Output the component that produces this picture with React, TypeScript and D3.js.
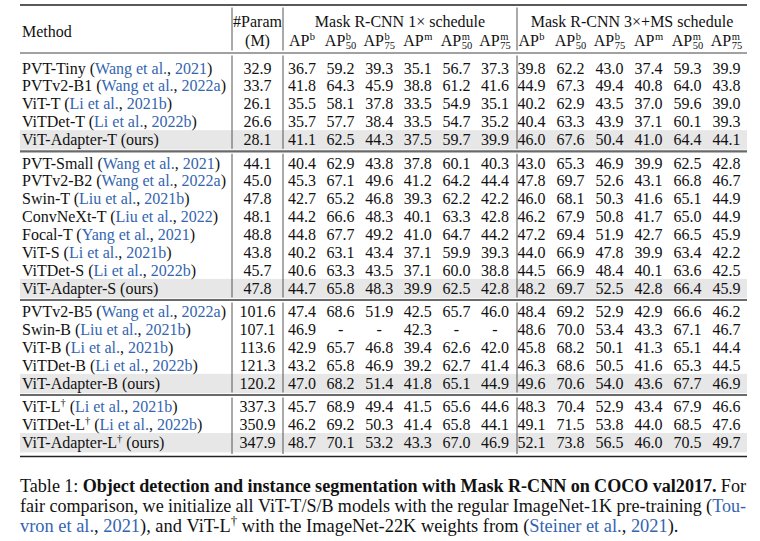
import React from 'react';
import * as d3 from 'd3';

// ---------- data ----------
const methodNames = [
  'PVT-Tiny', 'PVTv2-B1', 'ViT-T', 'ViTDet-T', 'ViT-Adapter-T',
  'PVT-Small', 'PVTv2-B2', 'Swin-T', 'ConvNeXt-T', 'Focal-T', 'ViT-S', 'ViTDet-S', 'ViT-Adapter-S',
  'PVTv2-B5', 'Swin-B', 'ViT-B', 'ViTDet-B', 'ViT-Adapter-B',
  'ViT-L', 'ViTDet-L', 'ViT-Adapter-L',
];
const methodDagger = [
  false, false, false, false, false,
  false, false, false, false, false, false, false, false,
  false, false, false, false, false,
  true, true, true,
];
const citeAuthors = [
  'Wang et al.', 'Wang et al.', 'Li et al.', 'Li et al.', '',
  'Wang et al.', 'Wang et al.', 'Liu et al.', 'Liu et al.', 'Yang et al.', 'Li et al.', 'Li et al.', '',
  'Wang et al.', 'Liu et al.', 'Li et al.', 'Li et al.', '',
  'Li et al.', 'Li et al.', '',
];
const citeYears = [
  '2021', '2022a', '2021b', '2022b', '',
  '2021', '2022a', '2021b', '2022', '2021', '2021b', '2022b', '',
  '2022a', '2021b', '2021b', '2022b', '',
  '2021b', '2022b', '',
];
const groupOf = [0, 0, 0, 0, 0, 1, 1, 1, 1, 1, 1, 1, 1, 2, 2, 2, 2, 2, 3, 3, 3];
const paramsM = [
  '32.9', '33.7', '26.1', '26.6', '28.1',
  '44.1', '45.0', '47.8', '48.1', '48.8', '43.8', '45.7', '47.8',
  '101.6', '107.1', '113.6', '121.3', '120.2',
  '337.3', '350.9', '347.9',
];
const metricKeys = ['APb', 'APb50', 'APb75', 'APm', 'APm50', 'APm75'];
const metricSup = ['b', 'b', 'b', 'm', 'm', 'm'];
const metricSub = ['', '50', '75', '', '50', '75'];
const rcnn1x = [
  ['36.7', '59.2', '39.3', '35.1', '56.7', '37.3'],
  ['41.8', '64.3', '45.9', '38.8', '61.2', '41.6'],
  ['35.5', '58.1', '37.8', '33.5', '54.9', '35.1'],
  ['35.7', '57.7', '38.4', '33.5', '54.7', '35.2'],
  ['41.1', '62.5', '44.3', '37.5', '59.7', '39.9'],
  ['40.4', '62.9', '43.8', '37.8', '60.1', '40.3'],
  ['45.3', '67.1', '49.6', '41.2', '64.2', '44.4'],
  ['42.7', '65.2', '46.8', '39.3', '62.2', '42.2'],
  ['44.2', '66.6', '48.3', '40.1', '63.3', '42.8'],
  ['44.8', '67.7', '49.2', '41.0', '64.7', '44.2'],
  ['40.2', '63.1', '43.4', '37.1', '59.9', '39.3'],
  ['40.6', '63.3', '43.5', '37.1', '60.0', '38.8'],
  ['44.7', '65.8', '48.3', '39.9', '62.5', '42.8'],
  ['47.4', '68.6', '51.9', '42.5', '65.7', '46.0'],
  ['46.9', '-', '-', '42.3', '-', '-'],
  ['42.9', '65.7', '46.8', '39.4', '62.6', '42.0'],
  ['43.2', '65.8', '46.9', '39.2', '62.7', '41.4'],
  ['47.0', '68.2', '51.4', '41.8', '65.1', '44.9'],
  ['45.7', '68.9', '49.4', '41.5', '65.6', '44.6'],
  ['46.2', '69.2', '50.3', '41.4', '65.8', '44.1'],
  ['48.7', '70.1', '53.2', '43.3', '67.0', '46.9'],
];
const rcnn3x = [
  ['39.8', '62.2', '43.0', '37.4', '59.3', '39.9'],
  ['44.9', '67.3', '49.4', '40.8', '64.0', '43.8'],
  ['40.2', '62.9', '43.5', '37.0', '59.6', '39.0'],
  ['40.4', '63.3', '43.9', '37.1', '60.1', '39.3'],
  ['46.0', '67.6', '50.4', '41.0', '64.4', '44.1'],
  ['43.0', '65.3', '46.9', '39.9', '62.5', '42.8'],
  ['47.8', '69.7', '52.6', '43.1', '66.8', '46.7'],
  ['46.0', '68.1', '50.3', '41.6', '65.1', '44.9'],
  ['46.2', '67.9', '50.8', '41.7', '65.0', '44.9'],
  ['47.2', '69.4', '51.9', '42.7', '66.5', '45.9'],
  ['44.0', '66.9', '47.8', '39.9', '63.4', '42.2'],
  ['44.5', '66.9', '48.4', '40.1', '63.6', '42.5'],
  ['48.2', '69.7', '52.5', '42.8', '66.4', '45.9'],
  ['48.4', '69.2', '52.9', '42.9', '66.6', '46.2'],
  ['48.6', '70.0', '53.4', '43.3', '67.1', '46.7'],
  ['45.8', '68.2', '50.1', '41.3', '65.1', '44.4'],
  ['46.3', '68.6', '50.5', '41.6', '65.3', '44.5'],
  ['49.6', '70.6', '54.0', '43.6', '67.7', '46.9'],
  ['48.3', '70.4', '52.9', '43.4', '67.9', '46.6'],
  ['49.1', '71.5', '53.8', '44.0', '68.5', '47.6'],
  ['52.1', '73.8', '56.5', '46.0', '70.5', '49.7'],
];
const headerMethod = 'Method';
const headerParam = ['#Param', '(M)'];
const headerBlocks = ['Mask R-CNN 1\u00d7 schedule', 'Mask R-CNN 3\u00d7+MS schedule'];

type Seg = { t: string; b?: boolean; blue?: boolean; sup?: boolean };
const captionLines: Seg[][][] = [
  [
    [{ t: 'Table' }], [{ t: '1:' }],
    [{ t: 'Object', b: true }], [{ t: 'detection', b: true }], [{ t: 'and', b: true }],
    [{ t: 'instance', b: true }], [{ t: 'segmentation', b: true }], [{ t: 'with', b: true }],
    [{ t: 'Mask', b: true }], [{ t: 'R-CNN', b: true }], [{ t: 'on', b: true }],
    [{ t: 'COCO', b: true }], [{ t: 'val2017.', b: true }], [{ t: 'For' }],
  ],
  [
    [{ t: 'fair' }], [{ t: 'comparison,' }], [{ t: 'we' }], [{ t: 'initialize' }], [{ t: 'all' }],
    [{ t: 'ViT-T/S/B' }], [{ t: 'models' }], [{ t: 'with' }], [{ t: 'the' }], [{ t: 'regular' }],
    [{ t: 'ImageNet-1K' }], [{ t: 'pre-training' }], [{ t: '(' }, { t: 'Tou-', blue: true }],
  ],
  [
    [{ t: 'vron', blue: true }], [{ t: 'et', blue: true }], [{ t: 'al.', blue: true }, { t: ',' }],
    [{ t: '2021', blue: true }, { t: '),' }], [{ t: 'and' }], [{ t: 'ViT-L' }, { t: '\u2020', sup: true }],
    [{ t: 'with' }], [{ t: 'the' }], [{ t: 'ImageNet-22K' }], [{ t: 'weights' }], [{ t: 'from' }],
    [{ t: '(' }, { t: 'Steiner', blue: true }], [{ t: 'et', blue: true }], [{ t: 'al.', blue: true }, { t: ',' }],
    [{ t: '2021', blue: true }, { t: ').' }],
  ],
];

// ---------- style ----------
const FONT = '"Liberation Serif", "Times New Roman", Times, serif';
const FS = 16;
const SMALL = 10.5;
const CAP_FS = 18.4;
const BLUE = '#3465b0';
const TEXT = '#111';
const HILITE = '#e7e7e7';

let ctx: CanvasRenderingContext2D | null = null;
function measure(text: string, size: number, bold = false): number {
  if (!ctx) ctx = document.createElement('canvas').getContext('2d');
  if (!ctx) return text.length * size * 0.5;
  ctx.font = `${bold ? 'bold ' : ''}${size}px "Liberation Serif"`;
  return ctx.measureText(text).width;
}

// ---------- layout scales ----------
const TABLE_L = 20;
const TABLE_R = 747;
const METHOD_X = 22;
const V1 = 232, V2 = 283, V3 = 517;
const PARAM_X = 257.5;
const ROW_H = 17.9;
const GROUP_GAP = 23.4;
const FIRST_ROW = 68;
const TOP_RULE = 5;
const HEAD_RULE = 53;
const H1 = 27, H2 = 46;

const x1 = d3.scalePoint<string>().domain(metricKeys).range([302, 495]);
const x3 = d3.scalePoint<string>().domain(metricKeys).range([531.5, 726.5]);
const slot = d3.scaleLinear().domain([0, 1]).range([FIRST_ROW, FIRST_ROW + ROW_H]);
const extra = (GROUP_GAP - ROW_H) / ROW_H;
const rowCenter = (i: number) => slot(i + groupOf[i] * extra);

function APHead({ cx, sup, sub }: { cx: number; sup: string; sub: string }) {
  const wAP = measure('AP', FS);
  const wS = Math.max(measure(sup, SMALL), sub ? measure(sub, SMALL) : 0);
  const x0 = cx - (wAP + wS + 0.5) / 2;
  return (
    <g>
      <text x={x0} y={H2}>AP</text>
      <text x={x0 + wAP + 0.5} y={H2 - 6.5} fontSize={SMALL}>{sup}</text>
      {sub && <text x={x0 + wAP + 0.5} y={H2 + 3.2} fontSize={SMALL}>{sub}</text>}
    </g>
  );
}

function Caption() {
  const left = TABLE_L;
  const right = 746;
  const avail = right - left;
  const baselines = [492, 512, 532];
  const wordWidth = (w: Seg[]) =>
    w.reduce((s, seg) => s + measure(seg.t, seg.sup ? CAP_FS * 0.7 : CAP_FS, !!seg.b), 0);
  const lines: JSX.Element[] = [];
  captionLines.forEach((line, li) => {
    const widths = line.map(wordWidth);
    const total = d3.sum(widths);
    const justify = li < captionLines.length - 1;
    const minGap = CAP_FS * 0.24;
    let gap = CAP_FS * 0.25;
    let sx = 1;
    if (justify) {
      const natural = total + minGap * (line.length - 1);
      if (natural > avail) {
        sx = avail / natural;
        gap = minGap;
      } else {
        gap = (avail - total) / (line.length - 1);
      }
    }
    let x = 0;
    const words = line.map((w, wi) => {
      const el = (
        <text key={`${li}-${wi}`} x={x} y={0} fontSize={CAP_FS} style={{ whiteSpace: 'pre' }}>
          {w.map((seg, si) => (
            <tspan
              key={si}
              fontWeight={seg.b ? 'bold' : 'normal'}
              fill={seg.blue ? BLUE : TEXT}
              fontSize={seg.sup ? CAP_FS * 0.7 : CAP_FS}
              dy={seg.sup ? -7 : 0}
            >
              {seg.t}
            </tspan>
          ))}
        </text>
      );
      x += widths[wi] + gap;
      return el;
    });
    lines.push(
      <g key={`l${li}`} transform={`translate(${left},${baselines[li]}) scale(${sx},1)`}>
        {words}
      </g>
    );
  });
  return <g>{lines}</g>;
}

export default function App() {
  const nRows = methodNames.length;
  const lastOfGroup: number[] = [];
  for (let i = 0; i < nRows; i++) {
    if (i === nRows - 1 || groupOf[i + 1] !== groupOf[i]) lastOfGroup.push(i);
  }
  const sepYs = lastOfGroup.slice(0, -1).map((i) => rowCenter(i) + GROUP_GAP / 2);
  const bottomRule = rowCenter(nRows - 1) + 14;
  const ruleYs = [TOP_RULE, HEAD_RULE, ...sepYs, bottomRule];

  return (
    <svg
      width={760}
      height={541}
      style={{ position: 'absolute', left: 0, top: 0, background: '#fff' }}
      fontFamily={FONT}
      fontSize={FS}
      fill={TEXT}
    >
      <rect x={0} y={0} width={760} height={541} fill="#fff" />
      {/* highlight rows (ours) */}
      {methodNames.map((n, i) =>
        citeAuthors[i] === '' ? (
          <rect key={`h${i}`} x={TABLE_L} y={rowCenter(i) - ROW_H / 2 - 0.5} width={TABLE_R - TABLE_L} height={ROW_H + 1.5} fill={HILITE} />
        ) : null
      )}
      {/* horizontal rules */}
      <line x1={TABLE_L} x2={TABLE_R} y1={TOP_RULE} y2={TOP_RULE} stroke="#222" strokeWidth={1.4} />
      <line x1={TABLE_L} x2={TABLE_R} y1={HEAD_RULE} y2={HEAD_RULE} stroke="#444" strokeWidth={1} />
      {sepYs.map((y, k) => (
        <line key={`s${k}`} x1={TABLE_L} x2={TABLE_R} y1={y} y2={y} stroke="#6a6a6a" strokeWidth={2.2} />
      ))}
      <line x1={TABLE_L} x2={TABLE_R} y1={bottomRule} y2={bottomRule} stroke="#222" strokeWidth={1.4} />
      {/* vertical lines */}
      {ruleYs.slice(0, -1).map((y, k) =>
        [V1, V2, V3].map((vx) => (
          <line key={`v${k}-${vx}`} x1={vx} x2={vx} y1={y + 2.5} y2={ruleYs[k + 1] - 2.5} stroke="#555" strokeWidth={1} />
        ))
      )}
      {/* header */}
      <text x={METHOD_X} y={(H1 + H2) / 2}>{headerMethod}</text>
      <text x={PARAM_X} y={H1} textAnchor="middle">{headerParam[0]}</text>
      <text x={PARAM_X} y={H2} textAnchor="middle">{headerParam[1]}</text>
      <text x={(V2 + V3) / 2} y={H1} textAnchor="middle">{headerBlocks[0]}</text>
      <text x={(V3 + TABLE_R) / 2} y={H1} textAnchor="middle">{headerBlocks[1]}</text>
      {metricKeys.map((k, j) => (
        <APHead key={`a${k}`} cx={x1(k)!} sup={metricSup[j]} sub={metricSub[j]} />
      ))}
      {metricKeys.map((k, j) => (
        <APHead key={`b${k}`} cx={x3(k)!} sup={metricSup[j]} sub={metricSub[j]} />
      ))}
      {/* body */}
      {methodNames.map((name, i) => {
        const yb = rowCenter(i) + 5.5;
        return (
          <g key={`r${i}`}>
            <text x={METHOD_X} y={yb} style={{ whiteSpace: 'pre' }}>
              <tspan>{name}</tspan>
              {methodDagger[i] && (
                <tspan fontSize={SMALL} dy={-6}>{'\u2020'}</tspan>
              )}
              {citeAuthors[i] ? (
                <>
                  <tspan dy={methodDagger[i] ? 6 : 0}>{' ('}</tspan>
                  <tspan fill={BLUE}>{citeAuthors[i]}</tspan>
                  <tspan>{', '}</tspan>
                  <tspan fill={BLUE}>{citeYears[i]}</tspan>
                  <tspan>{')'}</tspan>
                </>
              ) : (
                <tspan dy={methodDagger[i] ? 6 : 0}>{' (ours)'}</tspan>
              )}
            </text>
            <text x={PARAM_X} y={yb} textAnchor="middle">{paramsM[i]}</text>
            {metricKeys.map((k, j) => (
              <text key={`c1${j}`} x={x1(k)!} y={yb} textAnchor="middle">{rcnn1x[i][j]}</text>
            ))}
            {metricKeys.map((k, j) => (
              <text key={`c3${j}`} x={x3(k)!} y={yb} textAnchor="middle">{rcnn3x[i][j]}</text>
            ))}
          </g>
        );
      })}
      <Caption />
    </svg>
  );
}
